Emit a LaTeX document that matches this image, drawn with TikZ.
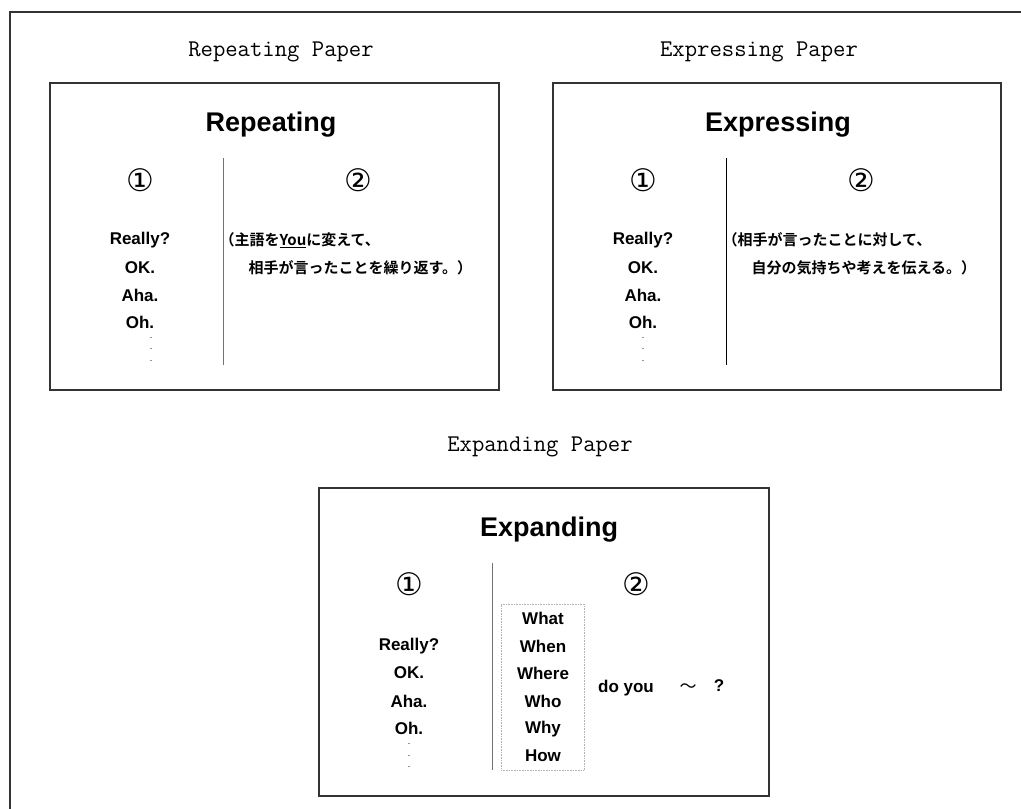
\documentclass[tikz,border=0pt]{standalone}
\usepackage{fontspec}
\newfontfamily\jpfont{Noto Sans CJK JP}[BoldFont={Noto Sans CJK JP Bold}]
\newfontfamily\djvfont{DejaVu Sans}
\newfontfamily\latfont{Liberation Sans}
\begin{document}
\begin{tikzpicture}[x=1pt,y=-1pt,
  frame/.style={draw=black!80,line width=1.6pt},
  paper/.style={draw=black!80,line width=1.5pt},
  title/.style={font=\fontsize{24}{24}\selectfont\ttfamily},
  heading/.style={font=\fontsize{27}{27}\selectfont\latfont\bfseries},
  num/.style={font=\fontsize{31}{31}\selectfont\djvfont},
  word/.style={font=\fontsize{17}{17}\selectfont\latfont\bfseries},
  jtext/.style={anchor=west,font=\fontsize{15}{15}\selectfont\jpfont\bfseries},
  dotm/.style={inner sep=0pt,font=\fontsize{9}{9}\selectfont\latfont},
  divider/.style={draw=black!55,line width=1pt},
  whbox/.style={draw=black!30,densely dotted,line width=0.6pt}]
\useasboundingbox (0,0) rectangle (1021,809);
% outer frame (top and left edges only visible)
\coordinate (fbl) at (10,809);
\coordinate (ftl) at (10,12);
\coordinate (ftr) at (1021,12);
\draw[frame] (fbl) -- (ftl) -- (ftr);

% ===== Repeating =====
\node[title] (t1) at (281,52) {Repeating Paper};
\node[paper,minimum width=449,minimum height=307,inner sep=0] (p1) at (274.5,236.5) {};
\node[heading] (h1) at (271,125) {Repeating};
\node[num] (n11) at (140,180) {①};
\node[num] (n12) at (358,180) {②};
\coordinate (d1a) at (223,158); \coordinate (d1b) at (223,365);
\draw[divider] (d1a) -- (d1b);
\node[word] (r1) at (140,240) {Really?};
\node[word] (o1) at (140,268) {OK.};
\node[word] (a1) at (140,295) {Aha.};
\node[word] (oh1) at (140,322) {Oh.};
\node[dotm] (v1a) at (151,338) {.};
\node[dotm] (v1b) at (151,349) {.};
\node[dotm] (v1c) at (151,361) {.};
\node[jtext] (j11) at (216,240) {（主語を\underline{You}に変えて、};
\node[jtext] (j12) at (245,268) {相手が言ったことを繰り返す。）};

% ===== Expressing =====
\node[title] (t2) at (759,52) {Expressing Paper};
\node[paper,minimum width=448,minimum height=307,inner sep=0] (p2) at (777,236.5) {};
\node[heading] (h2) at (778,125) {Expressing};
\node[num] (n21) at (643,180) {①};
\node[num] (n22) at (861,180) {②};
\coordinate (d2a) at (726,158); \coordinate (d2b) at (726,365);
\draw[draw=black,line width=1pt] (d2a) -- (d2b);
\node[word] (r2) at (643,240) {Really?};
\node[word] (o2) at (643,268) {OK.};
\node[word] (a2) at (643,295) {Aha.};
\node[word] (oh2) at (643,322) {Oh.};
\node[dotm] (v2a) at (643,338) {.};
\node[dotm] (v2b) at (643,349) {.};
\node[dotm] (v2c) at (643,361) {.};
\node[jtext] (j21) at (719,240) {（相手が言ったことに対して、};
\node[jtext] (j22) at (748,268) {自分の気持ちや考えを伝える。）};

% ===== Expanding =====
\node[title] (t3) at (540,447) {Expanding Paper};
\node[paper,minimum width=450,minimum height=308,inner sep=0] (p3) at (544,642) {};
\node[heading] (h3) at (549,530) {Expanding};
\node[num] (n31) at (409,584) {①};
\node[num] (n32) at (636,584) {②};
\coordinate (d3a) at (492,563); \coordinate (d3b) at (492,770);
\draw[divider] (d3a) -- (d3b);
\node[word] (r3) at (409,646) {Really?};
\node[word] (o3) at (409,673) {OK.};
\node[word] (a3) at (409,701) {Aha.};
\node[word] (oh3) at (409,728) {Oh.};
\node[dotm] (v3a) at (409,744) {.};
\node[dotm] (v3b) at (409,756) {.};
\node[dotm] (v3c) at (409,767) {.};
\node[whbox,minimum width=83,minimum height=166,inner sep=0] (wh) at (542.5,687) {};
\node[word] (w1) at (543,618) {What};
\node[word] (w2) at (543,646) {When};
\node[word] (w3) at (543,673) {Where};
\node[word] (w4) at (543,701) {Who};
\node[word] (w5) at (543,729) {Why};
\node[word] (w6) at (543,756) {How};
\node[word] (dy) at (626,688) {do you};
\node[word,font=\fontsize{17}{17}\selectfont\jpfont] (tl) at (688,688) {～};
\node[word] (qm) at (719,686) {?};
\end{tikzpicture}
\end{document}
